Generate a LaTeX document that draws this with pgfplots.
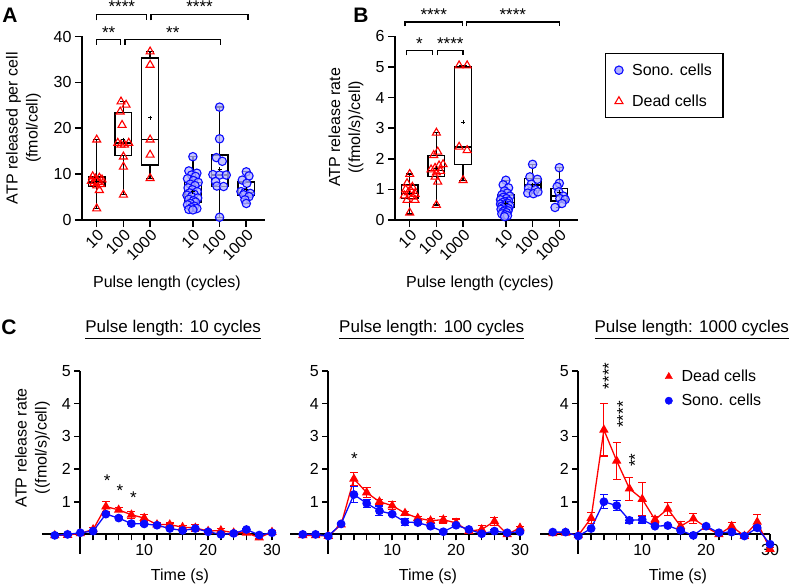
\documentclass[border=0pt]{standalone}
\usepackage{pgfplots}
\pgfplotsset{compat=1.18}
\usepgfplotslibrary{statistics}
\usepackage{pgfplotstable}
\usepackage{fontspec}
\setmainfont{Liberation Sans}

\definecolor{deadred}{RGB}{255,0,0}
\definecolor{sonoblue}{RGB}{10,10,255}
\definecolor{sonofill}{RGB}{178,178,255}

\newcommand{\fs}{\fontsize{16}{20}\selectfont}

% ---- time courses: t, dead mean, dead sem, sono mean, sono sem ----
\pgfplotstableread{
t   d     de    s     se
-4  -0.03 0.02  -0.03 0.02
-2  -0.02 0.02  0.00  0.02
0   0.03  0.02  0.05  0.02
2   0.15  0.05  0.10  0.03
4   0.85  0.15  0.62  0.04
6   0.75  0.06  0.50  0.04
8   0.60  0.10  0.33  0.04
10  0.50  0.12  0.32  0.04
12  0.30  0.05  0.28  0.03
14  0.30  0.05  0.18  0.03
16  0.22  0.06  0.12  0.03
18  0.20  0.10  0.18  0.03
20  0.10  0.04  0.08  0.03
22  0.12  0.06  0.00  0.03
24  0.05  0.04  0.03  0.03
26  0.05  0.04  0.15  0.03
28  -0.10 0.04  -0.02 0.03
30  0.07  0.04  0.05  0.03
}\tenCycles

\pgfplotstableread{
t   d     de    s     se
-4  -0.03 0.02  0.00  0.02
-2  -0.03 0.02  0.00  0.02
0   -0.05 0.03  -0.05 0.03
2   0.30  0.05  0.32  0.04
4   1.70  0.20  1.22  0.25
6   1.28  0.15  0.95  0.12
8   1.00  0.08  0.72  0.15
10  0.88  0.12  0.62  0.05
12  0.65  0.06  0.38  0.10
14  0.50  0.05  0.36  0.05
16  0.42  0.06  0.25  0.08
18  0.45  0.10  0.08  0.04
20  0.35  0.12  0.28  0.05
22  0.10  0.05  0.15  0.04
24  0.15  0.12  0.02  0.03
26  0.40  0.12  0.10  0.04
28  0.00  0.04  0.05  0.04
30  0.20  0.05  0.08  0.04
}\hundredCycles

\pgfplotstableread{
t   d     de    s     se
-4  0.03  0.03  0.07  0.02
-2  0.05  0.03  0.07  0.02
0   -0.03 0.03  -0.05 0.02
2   0.50  0.18  0.18  0.04
4   3.20  0.80  1.00  0.22
6   2.25  0.57  0.88  0.15
8   1.40  0.35  0.43  0.08
10  1.08  0.50  0.45  0.10
12  0.45  0.10  0.25  0.05
14  0.78  0.20  0.27  0.04
16  0.25  0.15  0.12  0.04
18  0.48  0.15  -0.03 0.03
20  0.22  0.08  0.25  0.05
22  0.00  0.04  0.05  0.04
24  0.25  0.12  0.07  0.04
26  -0.05 0.04  -0.05 0.03
28  0.38  0.22  0.20  0.06
30  -0.45 0.05  -0.30 0.05
}\thousandCycles

\tikzset{
  star/.style={font=\fontsize{17}{17}\selectfont, anchor=base, inner sep=0pt},
  brk/.style={line width=1.3pt},
}

\pgfplotsset{
  boxax/.style={
    scale only axis, width=183pt, height=183.5pt,
    axis lines=left, axis line style={line width=1.8pt, -},
    every tick/.style={line width=1.6pt, black},
    major tick length=7pt, tick align=outside,
    xmin=0.45, xmax=7.3, ymin=0,
    xtick={1,2,3,4.6,5.6,6.6},
    xticklabels={10,100,1000,10,100,1000},
    xticklabel style={rotate=45, anchor=north east, inner sep=1pt},
    /pgf/number format/assume math mode=true,
    tick label style={font=\fs},
    every axis x label/.style={at={(axis description cs:0.464,-0.344)}, anchor=center, font=\fs},
    xlabel={Pulse length (cycles)},
    clip=false,
  },
  bx/.style={boxplot prepared={#1, draw direction=y, box extend=0.63, whisker extend=0.28},
    draw=black, line width=1.3pt, fill=none, mark=none, solid},
  deadpts/.style={only marks, mark=triangle, mark size=4.6pt,
    mark options={draw=deadred, line width=1.1pt, fill=none}},
  sonopts/.style={only marks, mark=*, mark size=4.2pt,
    mark options={draw=sonoblue, fill=sonofill, fill opacity=0.75, line width=1.1pt}},
  meanpt/.style={only marks, mark=+, mark size=2pt, mark options={black, line width=0.9pt}},
  timeax/.style={
    scale only axis, width=230pt, height=183pt,
    axis x line=middle, axis y line=middle,
    axis line style={line width=1.8pt, -},
    every tick/.style={line width=1.6pt, black},
    major tick length=6pt, minor tick length=6pt, tick align=outside,
    xmin=-6, xmax=30, ymin=-0.6, ymax=5,
    xtick={10,20,30}, minor xtick={2,4,...,28}, ytick={1,2,3,4,5},
    /pgf/number format/assume math mode=true,
    tick label style={font=\fs},
    every axis x label/.style={at={(axis description cs:0.6,-0.124)}, anchor=center, font=\fs},
    xlabel={Time (s)},
    title style={font=\fontsize{17}{20}\selectfont, anchor=base, yshift=32pt},
    clip=false,
  },
  deadline/.style={deadred, line width=1.3pt, mark=triangle*, mark size=4.2pt,
    mark options={solid, fill=deadred},
    error bars/y dir=both, error bars/y explicit,
    error bars/error bar style={line width=1.1pt, deadred},
    error bars/error mark options={rotate=90, line width=1.1pt, deadred, mark size=4pt}},
  sonoline/.style={sonoblue, line width=1.3pt, mark=*, mark size=3.7pt,
    mark options={solid, fill=sonoblue},
    error bars/y dir=both, error bars/y explicit,
    error bars/error bar style={line width=1.1pt, sonoblue},
    error bars/error mark options={rotate=90, line width=1.1pt, sonoblue, mark size=4pt}},
}

\begin{document}
\begin{tikzpicture}
\useasboundingbox (0pt,0pt) rectangle (800pt,588pt);

% ---------------- A: total ATP per cell ----------------
\begin{axis}[boxax, at={(82pt,368pt)}, anchor=south west,
  ymax=40, ytick={0,10,20,30,40},
  every axis y label/.style={at={(axis description cs:-0.32,0.5)}, rotate=90, anchor=center, align=center, font=\fs},
  ylabel={ATP released per cell\\(fmol/cell)}]
\addplot[bx={draw position=1, lower whisker=2.5, lower quartile=7.3, median=8.3, upper quartile=9.4, upper whisker=17.5}] coordinates {};
\addplot[bx={draw position=2, lower whisker=5.5, lower quartile=14.0, median=16.8, upper quartile=23.5, upper whisker=25.8}] coordinates {};
\addplot[bx={draw position=3, lower whisker=9.1, lower quartile=12.0, median=17.6, upper quartile=35.3, upper whisker=36.7}] coordinates {};
\addplot[bx={draw position=4.6, lower whisker=2.2, lower quartile=3.9, median=5.5, upper quartile=8.2, upper whisker=13.8}] coordinates {};
\addplot[bx={draw position=5.6, lower whisker=0.6, lower quartile=7.3, median=9.8, upper quartile=14.2, upper whisker=24.6}] coordinates {};
\addplot[bx={draw position=6.6, lower whisker=3.6, lower quartile=5.3, median=6.0, upper quartile=8.3, upper whisker=10.5}] coordinates {};
% dead cells
\addplot[deadpts] coordinates {(1,17.5) (0.85,9.5) (1.1,9.2) (0.95,9.0) (1.2,8.8) (0.8,8.5) (1.05,8.3) (0.9,8.0) (1.15,7.8) (1,7.5) (1.1,6.5) (1,2.5)};
\addplot[deadpts] coordinates {(1.91,25.8) (2.1,25.1) (1.88,23.6) (1.95,20.7) (1.79,16.8) (1.91,16.4) (2.04,16.4) (2.2,16.8) (2,13.8) (2,11.6) (2,5.5)};
\addplot[deadpts] coordinates {(3,36.7) (3,33.8) (3,17.5) (3,14.2) (3,9.1)};
% sonoporated cells
\addplot[sonopts] coordinates {(4.6,13.8) (4.45,10.7) (4.75,10.2) (4.55,9.8) (4.7,9.5) (4.4,9.0) (4.62,8.6) (4.8,8.2) (4.5,7.8) (4.68,7.5) (4.42,7.0) (4.58,6.6) (4.76,6.2) (4.48,5.9) (4.65,5.6) (4.38,5.4) (4.55,5.1) (4.78,4.8) (4.45,4.5) (4.62,4.2) (4.7,3.9) (4.5,3.6) (4.4,3.3) (4.66,3.0) (4.55,2.7) (4.75,2.5) (4.45,2.3) (4.6,2.2)};
\addplot[sonopts] coordinates {(5.6,24.6) (5.6,17.7) (5.48,13.6) (5.7,12.8) (5.35,9.9) (5.6,9.8) (5.85,9.8) (5.45,8.4) (5.5,7.4) (5.75,7.3) (5.6,0.6)};
\addplot[sonopts] coordinates {(6.6,10.5) (6.7,9.6) (6.45,8.7) (6.62,8.0) (6.4,6.2) (6.55,6.0) (6.75,5.8) (6.5,5.5) (6.7,5.1) (6.55,4.4) (6.6,3.6)};
\addplot[meanpt] coordinates {(1,8.4) (2,17.5) (3,22.3) (4.6,6.2) (5.6,11.1) (6.6,6.7)};
% significance brackets
\draw[brk] (axis cs:1,43.5) |- (axis cs:2.87,44.8) -- (axis cs:2.87,43.5);
\draw[brk] (axis cs:3.03,43.5) |- (axis cs:6.66,44.8) -- (axis cs:6.66,43.5);
\draw[brk] (axis cs:1,38.2) |- (axis cs:1.9,39.3) -- (axis cs:1.9,38.2);
\draw[brk] (axis cs:2.06,38.2) |- (axis cs:5.64,39.3) -- (axis cs:5.64,38.2);
\node[star] at (axis cs:1.94,45.2) {****};
\node[star] at (axis cs:4.85,45.2) {****};
\node[star] at (axis cs:1.45,39.6) {**};
\node[star] at (axis cs:3.85,39.6) {**};
\end{axis}

% ---------------- B: release rate ----------------
\begin{axis}[boxax, at={(395pt,368pt)}, anchor=south west,
  ymax=6, ytick={0,1,2,3,4,5,6},
  every axis y label/.style={at={(axis description cs:-0.268,0.505)}, rotate=90, anchor=center, align=center, font=\fs},
  ylabel={ATP release rate\\((fmol/s)/cell)},
  legend style={at={(axis description cs:1.148,0.91)}, anchor=north west,
    draw=black, line width=1.3pt, font=\fs, inner xsep=9pt, inner ysep=8pt,
    row sep=14pt, cells={anchor=west},
    /tikz/every odd column/.append style={column sep=7pt}},
  legend image code/.code={\draw[#1] plot coordinates {(0pt,0pt)};}]
\addlegendimage{mark=*, mark size=4.2pt, mark options={draw=sonoblue, fill=sonofill, line width=1.1pt}}
\addlegendentry{Sono. cells}
\addlegendimage{mark=triangle, mark size=4.6pt, mark options={draw=deadred, line width=1.1pt, fill=none}}
\addlegendentry{Dead cells}
\addplot[forget plot, bx={draw position=1, lower whisker=0.2, lower quartile=0.71, median=0.87, upper quartile=1.14, upper whisker=1.5}] coordinates {};
\addplot[forget plot, bx={draw position=2, lower whisker=0.49, lower quartile=1.43, median=1.62, upper quartile=2.12, upper whisker=2.85}] coordinates {};
\addplot[forget plot, bx={draw position=3, lower whisker=1.3, lower quartile=1.82, median=2.39, upper quartile=5.0, upper whisker=5.05}] coordinates {};
\addplot[forget plot, bx={draw position=4.6, lower whisker=0.11, lower quartile=0.41, median=0.58, upper quartile=0.82, upper whisker=1.3}] coordinates {};
\addplot[forget plot, bx={draw position=5.6, lower whisker=0.86, lower quartile=0.96, median=1.14, upper quartile=1.36, upper whisker=1.82}] coordinates {};
\addplot[forget plot, bx={draw position=6.6, lower whisker=0.41, lower quartile=0.62, median=0.78, upper quartile=1.03, upper whisker=1.71}] coordinates {};
\addplot[forget plot, deadpts] coordinates {(1,1.5) (0.9,1.2) (1.1,1.08) (0.85,1.0) (1.05,0.95) (0.95,0.9) (1.2,0.85) (0.8,0.8) (1.1,0.76) (1.2,0.65) (0.9,0.65) (1,0.24)};
\addplot[forget plot, deadpts] coordinates {(2,2.85) (2.05,2.23) (1.9,2.12) (2.25,1.82) (2.1,1.78) (1.95,1.7) (1.8,1.65) (2.15,1.6) (2.0,1.55) (1.95,1.41) (2.05,1.25) (2,0.49)};
\addplot[forget plot, deadpts] coordinates {(2.85,5.05) (3.15,5.05) (2.85,2.39) (3.15,2.28) (3,1.3)};
\addplot[forget plot, sonopts] coordinates {(4.6,1.3) (4.5,1.15) (4.7,1.05) (4.55,0.95) (4.65,0.88) (4.45,0.82) (4.75,0.78) (4.5,0.74) (4.62,0.7) (4.4,0.66) (4.7,0.62) (4.55,0.6) (4.48,0.57) (4.66,0.55) (4.4,0.52) (4.58,0.5) (4.74,0.47) (4.45,0.45) (4.6,0.42) (4.5,0.4) (4.7,0.37) (4.42,0.35) (4.56,0.32) (4.68,0.3) (4.5,0.27) (4.62,0.24) (4.45,0.2) (4.58,0.17) (4.66,0.14) (4.55,0.11)};
\addplot[forget plot, sonopts] coordinates {(5.6,1.82) (5.5,1.41) (5.78,1.33) (5.55,1.17) (5.45,1.04) (5.7,0.99) (5.42,0.88) (5.63,0.86) (5.8,0.92)};
\addplot[forget plot, sonopts] coordinates {(6.6,1.71) (6.6,1.2) (6.52,1.09) (6.58,0.92) (6.75,0.78) (6.62,0.7) (6.82,0.67) (6.7,0.54) (6.44,0.41)};
\addplot[forget plot, meanpt] coordinates {(1,0.88) (2,1.7) (3,3.2) (4.6,0.55) (5.6,1.15) (6.6,0.9)};
\draw[brk] (axis cs:0.82,6.33) |- (axis cs:2.97,6.47) -- (axis cs:2.97,6.33);
\draw[brk] (axis cs:3.12,6.33) |- (axis cs:6.6,6.47) -- (axis cs:6.6,6.33);
\draw[brk] (axis cs:0.87,5.38) |- (axis cs:1.85,5.54) -- (axis cs:1.85,5.38);
\draw[brk] (axis cs:2.03,5.38) |- (axis cs:3.0,5.54) -- (axis cs:3.0,5.38);
\node[star] at (axis cs:1.9,6.52) {****};
\node[star] at (axis cs:4.86,6.52) {****};
\node[star] at (axis cs:1.36,5.58) {*};
\node[star] at (axis cs:2.52,5.58) {****};
\end{axis}

% ---------------- C: time courses ----------------
\begin{axis}[timeax, at={(42pt,34pt)}, anchor=south west,
  title={\underline{Pulse length: 10 cycles}},
  title style={at={(axis description cs:0.57,1)}},
  every axis y label/.style={at={(axis description cs:-0.041,0.58)}, rotate=90, anchor=center, align=center, font=\fs},
  ylabel={ATP release rate\\((fmol/s)/cell)}]
\addplot[deadline] table[x=t, y=d, y error=de] {\tenCycles};
\addplot[sonoline] table[x=t, y=s, y error=se] {\tenCycles};
\node[star] at (axis cs:4.2,1.46) {*};
\node[star] at (axis cs:6.2,1.16) {*};
\node[star] at (axis cs:8.3,0.93) {*};
\end{axis}

\begin{axis}[timeax, at={(290pt,34pt)}, anchor=south west,
  title={\underline{Pulse length: 100 cycles}},
  title style={at={(axis description cs:0.616,1)}}]
\addplot[deadline] table[x=t, y=d, y error=de] {\hundredCycles};
\addplot[sonoline] table[x=t, y=s, y error=se] {\hundredCycles};
\node[star] at (axis cs:4.1,2.15) {*};
\end{axis}

\begin{axis}[timeax, at={(540pt,34pt)}, anchor=south west,
  title={\underline{Pulse length: 1000 cycles}},
  title style={at={(axis description cs:0.66,1)}},
  legend style={draw=none, fill=none, at={(axis description cs:0.53,1.028)}, anchor=north west,
    font=\fs, row sep=7pt, cells={anchor=west},
    /tikz/every odd column/.append style={column sep=7pt}},
  legend image code/.code={\draw[#1] plot coordinates {(0pt,0pt)};}]
\addlegendimage{mark=triangle*, mark size=4.2pt, deadred, mark options={fill=deadred}}
\addlegendentry{Dead cells}
\addlegendimage{mark=*, mark size=3.7pt, sonoblue, mark options={fill=sonoblue}}
\addlegendentry{Sono. cells}
\addplot[forget plot, deadline] table[x=t, y=d, y error=de] {\thousandCycles};
\addplot[forget plot, sonoline] table[x=t, y=s, y error=se] {\thousandCycles};
\node[star, anchor=center, rotate=90] at (axis cs:4.78,4.85) {****};
\node[star, anchor=center, rotate=90] at (axis cs:6.98,3.67) {****};
\node[star, anchor=center, rotate=90] at (axis cs:8.88,2.27) {**};
\end{axis}

% panel letters
\node[font=\bfseries\fontsize{21}{21}\selectfont] at (10pt,573pt) {A};
\node[font=\bfseries\fontsize{21}{21}\selectfont] at (361pt,573pt) {B};
\node[font=\bfseries\fontsize{21}{21}\selectfont] at (9pt,261pt) {C};
\end{tikzpicture}
\end{document}
